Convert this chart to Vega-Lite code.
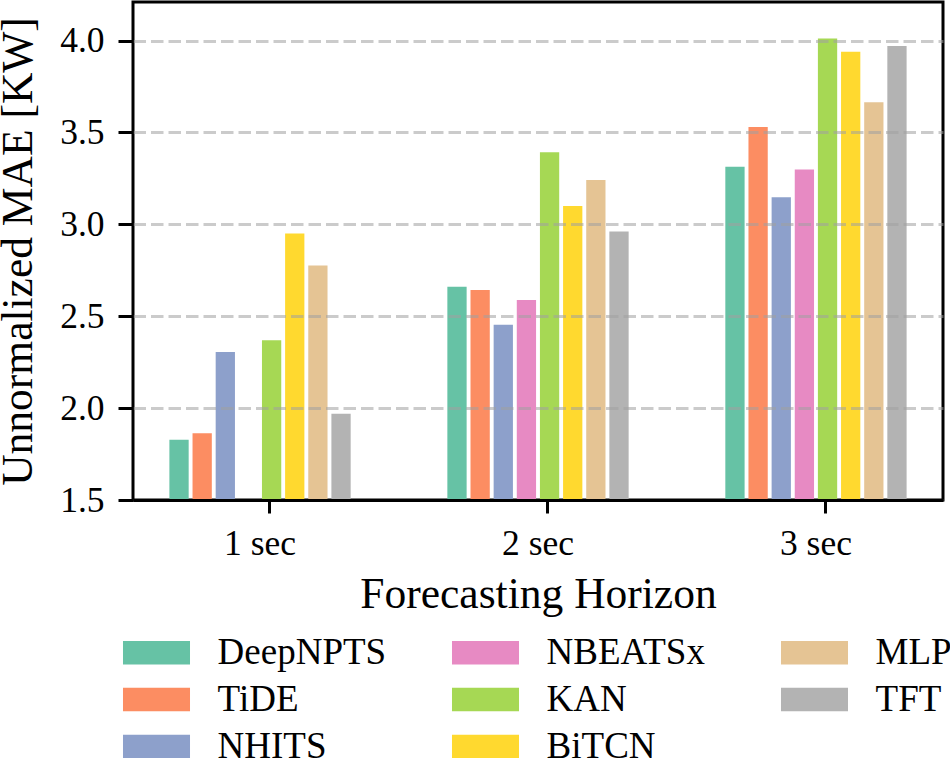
{
  "$schema": "https://vega.github.io/schema/vega-lite/v6.json",
  "width": 810,
  "height": 498,
  "autosize": {"type": "none"},
  "padding": {"left": 133, "top": 2, "right": 7, "bottom": 258},
  "background": "white",
  "data": {
    "values": [
      {"horizon": "1 sec", "model": "DeepNPTS", "mae": 1.828},
      {"horizon": "1 sec", "model": "TiDE", "mae": 1.863},
      {"horizon": "1 sec", "model": "NHITS", "mae": 2.306},
      {"horizon": "1 sec", "model": "KAN", "mae": 2.369},
      {"horizon": "1 sec", "model": "BiTCN", "mae": 2.950},
      {"horizon": "1 sec", "model": "MLP", "mae": 2.776},
      {"horizon": "1 sec", "model": "TFT", "mae": 1.970},
      {"horizon": "2 sec", "model": "DeepNPTS", "mae": 2.661},
      {"horizon": "2 sec", "model": "TiDE", "mae": 2.643},
      {"horizon": "2 sec", "model": "NHITS", "mae": 2.453},
      {"horizon": "2 sec", "model": "NBEATSx", "mae": 2.589},
      {"horizon": "2 sec", "model": "KAN", "mae": 3.393},
      {"horizon": "2 sec", "model": "BiTCN", "mae": 3.100},
      {"horizon": "2 sec", "model": "MLP", "mae": 3.242},
      {"horizon": "2 sec", "model": "TFT", "mae": 2.961},
      {"horizon": "3 sec", "model": "DeepNPTS", "mae": 3.313},
      {"horizon": "3 sec", "model": "TiDE", "mae": 3.530},
      {"horizon": "3 sec", "model": "NHITS", "mae": 3.148},
      {"horizon": "3 sec", "model": "NBEATSx", "mae": 3.298},
      {"horizon": "3 sec", "model": "KAN", "mae": 4.011},
      {"horizon": "3 sec", "model": "BiTCN", "mae": 3.939},
      {"horizon": "3 sec", "model": "MLP", "mae": 3.665},
      {"horizon": "3 sec", "model": "TFT", "mae": 3.970}
    ]
  },
  "mark": {"type": "bar", "clip": true},
  "encoding": {
    "x": {
      "field": "horizon",
      "type": "nominal",
      "sort": ["1 sec", "2 sec", "3 sec"],
      "scale": {"paddingInner": 0.334, "paddingOuter": 0.124},
      "axis": {
        "title": "Forecasting Horizon",
        "labelAngle": 0,
        "bandPosition": 0.549,
        "domain": true,
        "domainColor": "black",
        "domainWidth": 3,
        "tickSize": 13,
        "tickWidth": 3,
        "tickColor": "black",
        "labelPadding": 13,
        "labelFont": "Liberation Serif",
        "labelFontSize": 35.5,
        "labelColor": "black",
        "titleFont": "Liberation Serif",
        "titleFontSize": 43.5,
        "titleFontWeight": "normal",
        "titleColor": "black",
        "titlePadding": 12,
        "zindex": 2
      }
    },
    "xOffset": {
      "field": "model",
      "type": "nominal",
      "scale": {
        "domain": ["DeepNPTS", "TiDE", "NHITS", "NBEATSx", "KAN", "BiTCN", "MLP", "TFT"],
        "paddingInner": 0.167,
        "paddingOuter": 0.083
      }
    },
    "y": {
      "field": "mae",
      "type": "quantitative",
      "scale": {"domain": [1.5, 4.21], "nice": false, "zero": false},
      "axis": {
        "title": "Unnormalized MAE [KW]",
        "values": [1.5, 2.0, 2.5, 3.0, 3.5, 4.0],
        "format": ".1f",
        "grid": true,
        "gridColor": "#a0a0a0",
        "gridOpacity": 0.55,
        "gridWidth": 3,
        "gridDash": [12.5, 5],
        "domain": false,
        "tickSize": 15,
        "tickWidth": 3,
        "tickColor": "black",
        "labelPadding": 14,
        "labelFont": "Liberation Serif",
        "labelFontSize": 35.5,
        "labelColor": "black",
        "titleFont": "Liberation Serif",
        "titleFontSize": 43.5,
        "titleFontWeight": "normal",
        "titleColor": "black",
        "titlePadding": 19,
        "zindex": 1
      }
    },
    "color": {
      "field": "model",
      "type": "nominal",
      "scale": {
        "domain": ["DeepNPTS", "TiDE", "NHITS", "NBEATSx", "KAN", "BiTCN", "MLP", "TFT"],
        "range": ["#66c2a5", "#fc8d62", "#8da0cb", "#e78ac3", "#a6d854", "#ffd92f", "#e5c494", "#b3b3b3"]
      },
      "legend": {
        "title": null,
        "orient": "none",
        "legendX": 5,
        "legendY": 632,
        "columns": 3,
        "gridAlign": "all",
        "symbolType": "M-2.827,-1L2.827,-1L2.827,1L-2.827,1Z",
        "symbolSize": 562,
        "symbolStrokeWidth": 0,
        "symbolOpacity": 1,
        "labelFont": "Liberation Serif",
        "labelFontSize": 37,
        "labelColor": "black",
        "labelOffset": 42.6,
        "labelLimit": 400,
        "rowPadding": 9,
        "columnPadding": 64
      }
    }
  },
  "config": {
    "view": {"stroke": "black", "strokeWidth": 3},
    "axis": {"labelLimit": 400, "titleLimit": 1000}
  }
}
